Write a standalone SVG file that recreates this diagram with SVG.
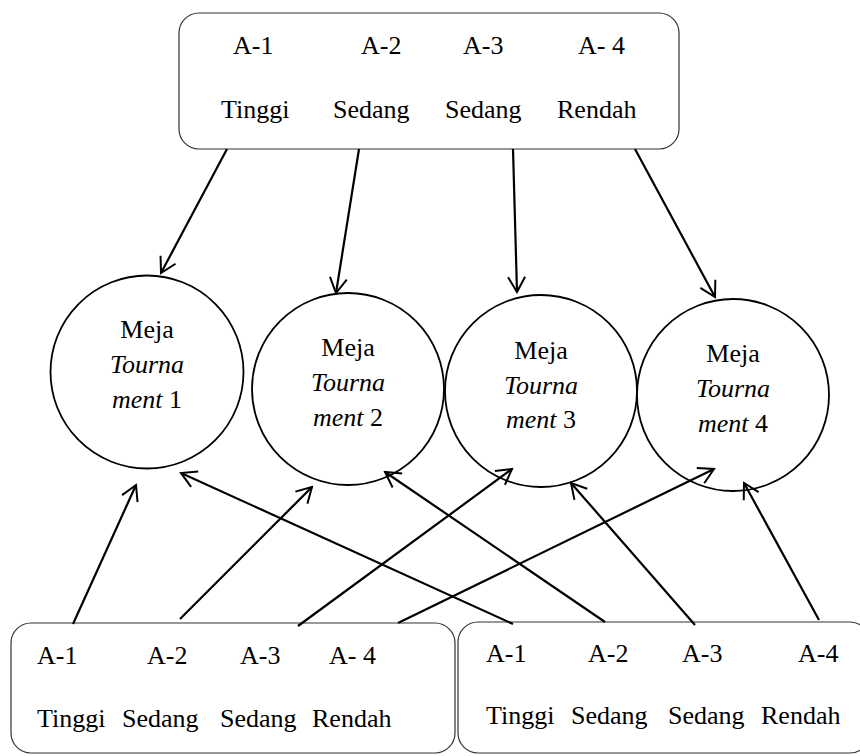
<svg xmlns="http://www.w3.org/2000/svg" width="860" height="756" viewBox="0 0 860 756">
<defs>
<marker id="ah" markerUnits="userSpaceOnUse" viewBox="-18 -11 20 22" markerWidth="20" markerHeight="22" refX="0" refY="0" orient="auto">
<path d="M -15,-8.5 L 0,0 L -15,8.5" fill="none" stroke="#000" stroke-width="2"/>
</marker>
</defs>
<style>
.box{fill:#fff;stroke:#333;stroke-width:1.2}
.node{fill:#fff;stroke:#000;stroke-width:1.8}
text{font-family:"Liberation Serif","Times New Roman",serif;font-size:26px;fill:#000}
.c{text-anchor:middle}
.i{font-style:italic}
.conn line{stroke:#000;stroke-width:2.2;marker-end:url(#ah)}
</style>
<rect width="860" height="756" fill="#fff"/>
<g id="top-group">
<rect class="box" x="179" y="13" width="500" height="136" rx="20"/>
<text x="233" y="54">A-1</text>
<text x="361" y="54">A-2</text>
<text x="463" y="54">A-3</text>
<text x="578" y="54">A- 4</text>
<text x="221" y="118">Tinggi</text>
<text x="333" y="118">Sedang</text>
<text x="445" y="118">Sedang</text>
<text x="557" y="118">Rendah</text>
</g>
<g id="bottom-left-group">
<rect class="box" x="11" y="623" width="444" height="130" rx="20"/>
<text x="37" y="664">A-1</text>
<text x="147" y="664">A-2</text>
<text x="240" y="664">A-3</text>
<text x="329" y="664">A- 4</text>
<text x="37" y="727">Tinggi</text>
<text x="122" y="727">Sedang</text>
<text x="220" y="727">Sedang</text>
<text x="312" y="727">Rendah</text>
</g>
<g id="bottom-right-group">
<rect class="box" x="458" y="622" width="412" height="131" rx="20"/>
<text x="486" y="662">A-1</text>
<text x="588" y="662">A-2</text>
<text x="682" y="662">A-3</text>
<text x="798" y="662">A-4</text>
<text x="486" y="724">Tinggi</text>
<text x="571" y="724">Sedang</text>
<text x="668" y="724">Sedang</text>
<text x="761" y="724">Rendah</text>
</g>
<g id="table-1">
<circle class="node" cx="147" cy="372" r="96.5"/>
<text class="c" x="147" y="338">Meja</text>
<text class="c i" x="147" y="373">Tourna</text>
<text class="c" x="147" y="408"><tspan class="i">ment</tspan> 1</text>
</g>
<g id="table-2">
<circle class="node" cx="348" cy="389" r="96"/>
<text class="c" x="348" y="356">Meja</text>
<text class="c i" x="348" y="391">Tourna</text>
<text class="c" x="348" y="426"><tspan class="i">ment</tspan> 2</text>
</g>
<g id="table-3">
<circle class="node" cx="541" cy="391" r="96"/>
<text class="c" x="541" y="359">Meja</text>
<text class="c i" x="541" y="394">Tourna</text>
<text class="c" x="541" y="428"><tspan class="i">ment</tspan> 3</text>
</g>
<g id="table-4">
<circle class="node" cx="733" cy="395" r="96"/>
<text class="c" x="733" y="362">Meja</text>
<text class="c i" x="733" y="397">Tourna</text>
<text class="c" x="733" y="432"><tspan class="i">ment</tspan> 4</text>
</g>
<g class="conn" id="connectors">
<line x1="227" y1="149" x2="161" y2="273"/>
<line x1="359" y1="149" x2="336" y2="293"/>
<line x1="513" y1="149" x2="517" y2="292"/>
<line x1="635" y1="149" x2="715" y2="297"/>
<line x1="73" y1="624" x2="136" y2="485"/>
<line x1="180" y1="619" x2="312" y2="487"/>
<line x1="298" y1="626" x2="512" y2="469"/>
<line x1="398" y1="623" x2="714" y2="469"/>
<line x1="513" y1="624" x2="181" y2="473"/>
<line x1="605" y1="622" x2="385" y2="472"/>
<line x1="695" y1="625" x2="571" y2="483"/>
<line x1="819" y1="620" x2="744" y2="483"/>
</g>
</svg>
